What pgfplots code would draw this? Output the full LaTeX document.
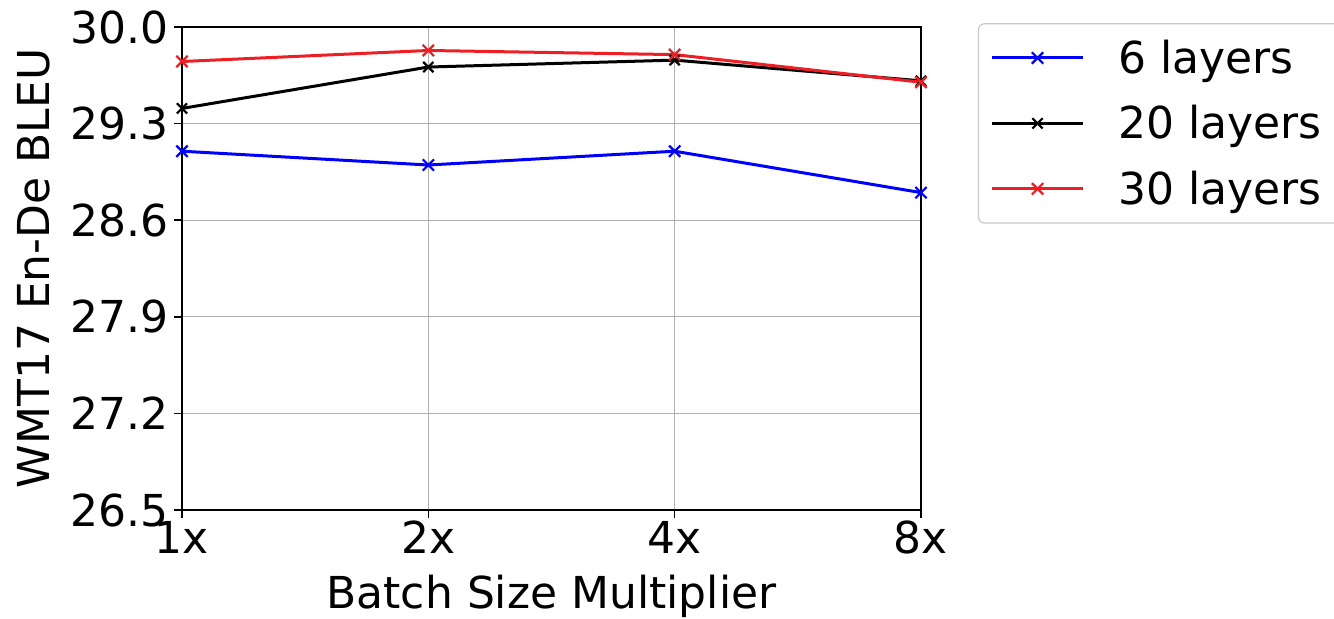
\documentclass[border=0pt]{standalone}
\usepackage{fontspec}
\setmainfont{DejaVu Sans}
\usepackage{pgfplots}
\pgfplotsset{compat=1.18}
\definecolor{myred}{RGB}{238,30,36}
\definecolor{mygrid}{RGB}{176,176,176}
\begin{document}
\begin{tikzpicture}
\useasboundingbox (-91pt,-54pt) rectangle (576pt,255pt);
\begin{axis}[
  scale only axis,
  width=369.5pt, height=241.5pt,
  xmin=0, xmax=3, ymin=26.5, ymax=30.0,
  xtick={0,1,2,3}, xticklabels={1x,2x,4x,8x},
  ytick={26.5,27.2,27.9,28.6,29.3,30.0},
  yticklabel style={xshift=1pt, /pgf/number format/fixed, /pgf/number format/fixed zerofill, /pgf/number format/precision=1},
  /pgf/number format/assume math mode=true,
  tick label style={font=\fontsize{22}{26}\selectfont},
  label style={font=\fontsize{22}{26}\selectfont},
  xticklabel style={yshift=2pt},
  xlabel={Batch Size Multiplier},
  ylabel={WMT17 En-De BLEU},
  xlabel style={yshift=-3.5pt},
  ylabel style={yshift=3.5pt},
  grid=major,
  grid style={mygrid, line width=0.6pt},
  axis line style={black, line width=0.8pt},
  tick align=outside, tick pos=left,
  major tick length=4pt,
  every tick/.style={black, line width=0.8pt},
  clip=false,
  legend style={at={(1.077,1.008)}, anchor=north west,
    font=\fontsize{22}{26}\selectfont,
    draw=mygrid!70, rounded corners=3pt, line width=0.6pt,
    row sep=10.5pt, inner xsep=6pt, inner ysep=6pt,
    nodes={inner xsep=17pt}},
  legend cell align=left,
  legend image code/.code={\draw[mark repeat=2,mark phase=2] plot coordinates {(0cm,0cm)(0.8cm,0cm)(1.6cm,0cm)};},
]
\addplot[blue, line width=1.5pt, mark=x, mark size=4pt, mark options={line width=1.1pt}] coordinates {(0,29.10) (1,29.00) (2,29.10) (3,28.80)};
\addlegendentry{6 layers}
\addplot[black, line width=1.5pt, mark=x, mark size=3.6pt, mark options={line width=1.1pt}] coordinates {(0,29.41) (1,29.71) (2,29.76) (3,29.61)};
\addlegendentry{20 layers}
\addplot[myred, line width=1.5pt, mark=x, mark size=4pt, mark options={line width=1.1pt}] coordinates {(0,29.75) (1,29.83) (2,29.80) (3,29.60)};
\addlegendentry{30 layers}
\end{axis}
\end{tikzpicture}
\end{document}
